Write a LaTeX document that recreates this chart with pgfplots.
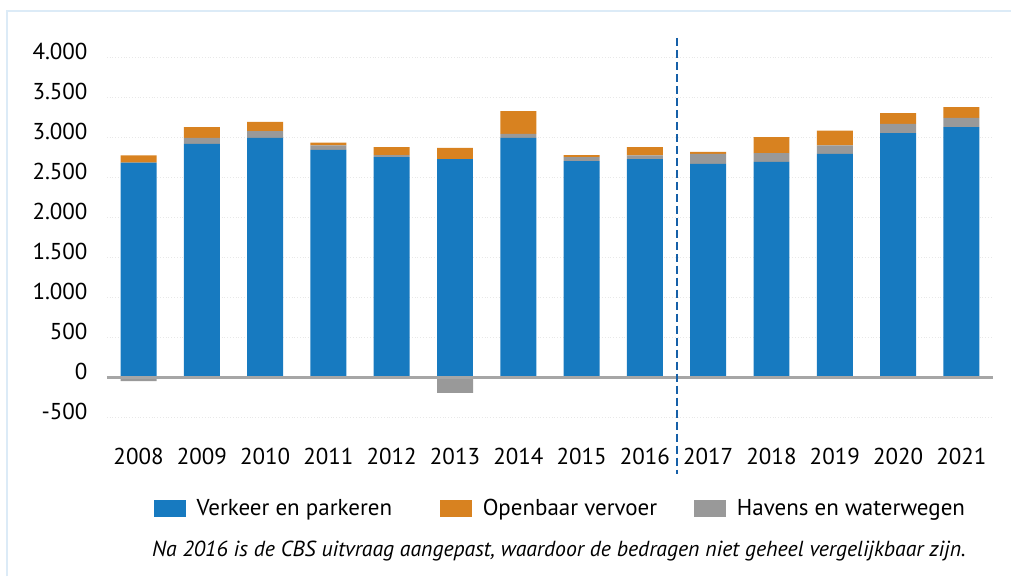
\documentclass[border=0pt]{standalone}
\usepackage{fontspec}
\setmainfont{PT Sans}
\usepackage{pgfplots}
\usepackage{pgfplotstable}
\pgfplotsset{compat=1.18}

\definecolor{cBlue}{RGB}{23,122,192}
\definecolor{cOrange}{RGB}{216,130,32}
\definecolor{cGray}{RGB}{153,153,153}
\definecolor{cDash}{RGB}{22,96,168}
\definecolor{cFrame}{RGB}{220,235,247}
\definecolor{cAxis}{RGB}{166,166,166}

% positive parts stacked: blue, gray, orange; negative gray drawn apart
\pgfplotstableread{
idx blue gray orange grayneg
0  2690 0   90  -45
1  2925 75  135 0
2  3000 85  115 0
3  2850 55  35  0
4  2760 25  100 0
5  2735 0   140 -190
6  3000 50  285 0
7  2710 50  25  0
8  2735 45  105 0
9  2675 125 25  0
10 2700 110 200 0
11 2800 105 185 0
12 3060 115 135 0
13 3135 115 135 0
}\data

\pgfplotsset{base/.style={
  scale only axis, width=443.5pt, height=180pt,
  xmin=-0.5, xmax=13.5, ymin=-500, ymax=4000,
  at={(53.5pt,-209pt)}, anchor=south west,
  bar width=18pt,
}}

\begin{document}
\begin{tikzpicture}[font=\fontsize{11.5}{14}\selectfont]
\path (0,0) rectangle (506pt,-288.5pt);
\draw[cFrame, line width=1pt] (3.4pt,-288.5pt) -- (3.4pt,-5.5pt) -- (506pt,-5.5pt);

\begin{axis}[base, ybar stacked,
  axis line style={draw=none},
  major tick length=0pt,
  xtick={0,...,13},
  xticklabels={2008,2009,2010,2011,2012,2013,2014,2015,2016,2017,2018,2019,2020,2021},
  xticklabel style={anchor=center, inner sep=0pt, yshift=-19.5pt},
  ytick={-500,0,...,4000},
  yticklabel style={anchor=east, inner sep=0pt, xshift=-9.5pt, yshift=3pt},
  scaled y ticks=false,
  /pgf/number format/1000 sep={.},
  /pgf/number format/assume math mode=true,
  ymajorgrids, grid style={densely dotted, line width=0.5pt, black!9},
  legend columns=3,
  legend style={at={(0.053,-0.2528)}, anchor=west, draw=none, fill=none,
    inner sep=0pt, outer sep=0pt,
    /tikz/every odd column/.append style={column sep=5.5pt},
    /tikz/column 2/.append style={column sep=24pt},
    /tikz/column 4/.append style={column sep=18.5pt},
    nodes={inner sep=0pt, anchor=west}},
]
\addlegendimage{legend image code/.code={\fill[cBlue] (0pt,-4pt) rectangle (15.5pt,4pt);}}
\addlegendentry{Verkeer en parkeren}
\addlegendimage{legend image code/.code={\fill[cOrange] (0pt,-4pt) rectangle (15.5pt,4pt);}}
\addlegendentry{Openbaar vervoer}
\addlegendimage{legend image code/.code={\fill[cGray] (0pt,-4pt) rectangle (15.5pt,4pt);}}
\addlegendentry{Havens en waterwegen}
\addplot[fill=cBlue, draw=none, forget plot] table[x=idx, y=blue] {\data};
\addplot[fill=cGray, draw=none, forget plot] table[x=idx, y=gray] {\data};
\addplot[fill=cOrange, draw=none, forget plot] table[x=idx, y=orange] {\data};
\end{axis}

\begin{axis}[base, ybar, bar shift=0pt, hide axis, clip=false]
\addplot[fill=cGray, draw=none] table[x=idx, y=grayneg] {\data};
\draw[cAxis, line width=1.5pt] (axis cs:-0.5,0) -- (axis cs:13.5,0);
\draw[cDash, line width=1pt, dash pattern=on 4pt off 2pt] (axis cs:8.5,4250) -- (axis cs:8.5,-1212);
\end{axis}

\node[anchor=base, font=\fontsize{10.9}{14}\selectfont\itshape] at (279.75pt,-278.3pt)
  {Na 2016 is de CBS uitvraag aangepast, waardoor de bedragen niet geheel vergelijkbaar zijn.};
\end{tikzpicture}
\end{document}
